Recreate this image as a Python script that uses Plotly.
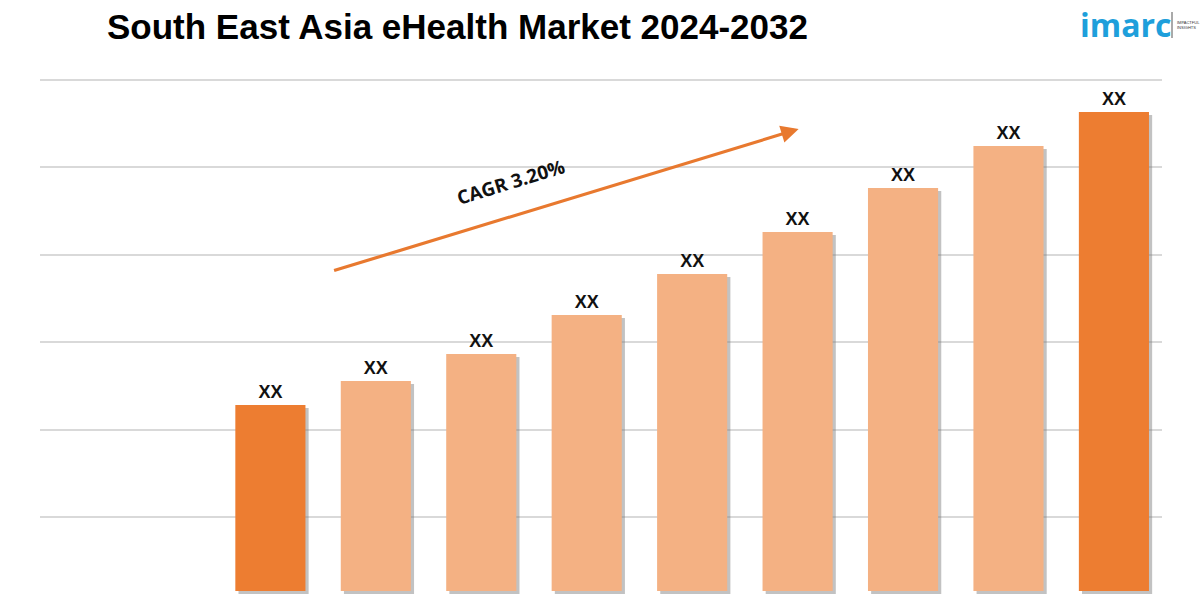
import plotly.graph_objects as go

# ---- data ----
years = [2024, 2025, 2026, 2027, 2028, 2029, 2030, 2031, 2032]
values = [186, 210, 237, 276, 317, 359, 403, 445, 479]
labels = ["XX"] * 9
colors = ["#ED7D31", "#F4B183", "#F4B183", "#F4B183", "#F4B183",
          "#F4B183", "#F4B183", "#F4B183", "#ED7D31"]
title_text = "South East Asia eHealth Market 2024-2032"
cagr_text = "CAGR 3.20%"

# arrow endpoints in data coordinates
arrow_start = (2024.59, 320)
arrow_end = (2029.01, 462)

fig = go.Figure()

# subtle drop shadow
fig.add_trace(go.Bar(
    x=years, y=values, base=[-3] * len(values),
    width=0.665, offset=-0.3325 + 0.03,
    marker=dict(color="rgba(120,120,120,0.45)", line=dict(width=0)),
    hoverinfo="skip", showlegend=False,
))

fig.add_trace(go.Bar(
    x=years, y=values, width=0.665, offset=-0.3325,
    marker=dict(color=colors, line=dict(width=0)),
    text=labels, textposition="outside", cliponaxis=False,
    texttemplate="<b>%{text}</b>",
    textfont=dict(family="Liberation Sans, Arial, sans-serif", size=18, color="#111111"),
    showlegend=False,
))

fig.update_layout(
    width=1200, height=600,
    margin=dict(l=40, r=38, t=78, b=0),
    paper_bgcolor="white", plot_bgcolor="white",
    barmode="overlay", bargap=0.3,
    xaxis=dict(range=[2021.815, 2032.456], showticklabels=False, showgrid=False,
               zeroline=False, showline=False, ticks=""),
    yaxis=dict(range=[-9, 513], showticklabels=False, showgrid=True,
               gridcolor="#D9D9D9", gridwidth=1.5, tick0=74, dtick=87.4,
               zeroline=False, showline=False, ticks=""),
    font=dict(family="Liberation Sans, Arial, sans-serif"),
)

# title
fig.add_annotation(
    text="<b>" + title_text + "</b>", xref="paper", yref="paper",
    x=(105 - 40) / 1122, y=1 + (78 - 26) / 522, xanchor="left", yanchor="middle",
    showarrow=False, font=dict(size=35, color="#000000",
                               family="Liberation Sans, Arial, sans-serif"),
)

# CAGR arrow
fig.add_annotation(
    x=arrow_end[0], y=arrow_end[1], ax=arrow_start[0], ay=arrow_start[1],
    xref="x", yref="y", axref="x", ayref="y",
    showarrow=True, arrowhead=2, arrowsize=1.1, arrowwidth=3.2,
    arrowcolor="#E8792F", text="",
)
fig.add_annotation(
    text="<b>" + cagr_text + "</b>", x=2026.28, y=409, xref="x", yref="y",
    showarrow=False, textangle=-17,
    font=dict(size=19, color="#111111", family="Open Sans, Liberation Sans, sans-serif"),
)

# logo
fig.add_annotation(
    text="<b>imarc</b>", xref="paper", yref="paper",
    x=(1078 - 40) / 1122, y=1 + (78 - 24) / 522, xanchor="left", yanchor="middle",
    showarrow=False,
    font=dict(size=32, color="#1E9FDB", family="Open Sans, Liberation Sans, sans-serif"),
)
fig.add_shape(type="line", xref="paper", yref="paper",
              x0=(1172 - 40) / 1122, x1=(1172 - 40) / 1122,
              y0=1 + (78 - 38) / 522, y1=1 + (78 - 12) / 522,
              line=dict(color="#555555", width=1))
fig.add_annotation(
    text="IMPACTFUL<br>INSIGHTS", xref="paper", yref="paper",
    x=(1175 - 40) / 1122, y=1 + (78 - 25) / 522, xanchor="left", yanchor="middle",
    showarrow=False, align="left",
    font=dict(size=4, color="#333333", family="Liberation Sans, Arial, sans-serif"),
)

fig.write_html("out.html")
